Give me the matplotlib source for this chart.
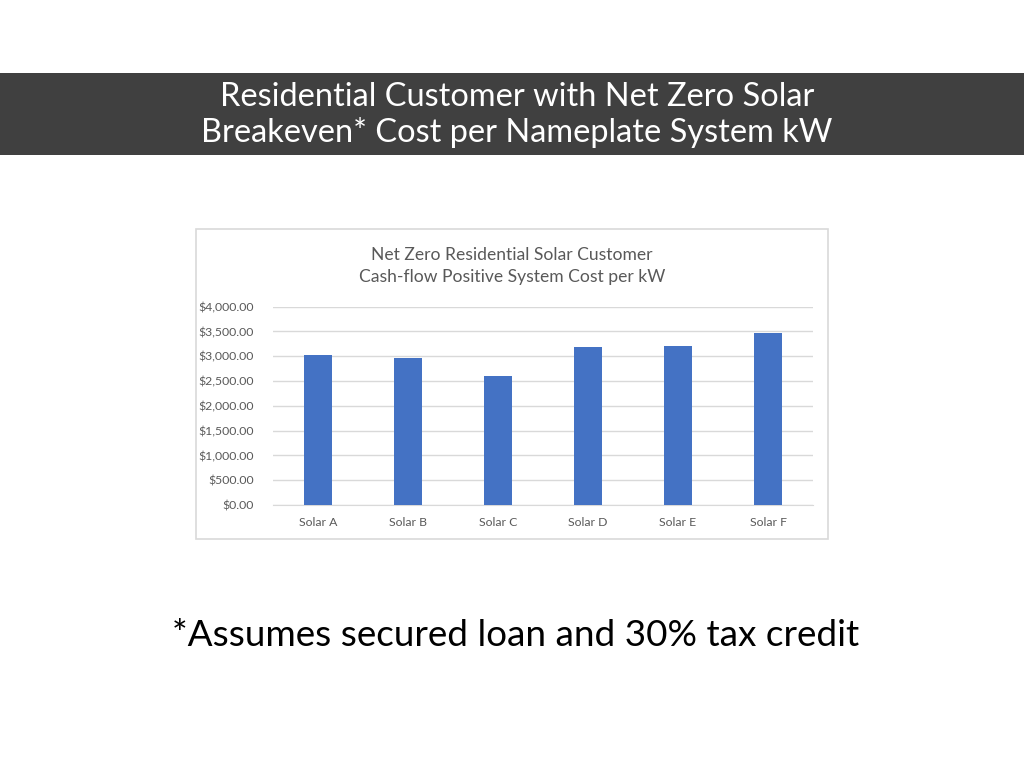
import matplotlib
matplotlib.use("Agg")
import matplotlib.pyplot as plt
from matplotlib.patches import Rectangle
from matplotlib.ticker import FuncFormatter, MultipleLocator

categories = ["Solar A", "Solar B", "Solar C", "Solar D", "Solar E", "Solar F"]
costs = [3025, 2970, 2605, 3180, 3205, 3470]

slide_title = "Residential Customer with Net Zero Solar\nBreakeven* Cost per Nameplate System kW"
chart_title = "Net Zero Residential Solar Customer\nCash-flow Positive System Cost per kW"
footnote = "*Assumes secured loan and 30% tax credit"

W, H = 1024, 768
fig = plt.figure(figsize=(W / 100, H / 100), dpi=100)
fig.patch.set_facecolor("white")
font = ["Lato", "DejaVu Sans"]

def fx(px):
    return px / W

def fy(py):
    return 1 - py / H

# Title banner
fig.patches.append(Rectangle((0, fy(155)), 1, (155 - 73) / H, transform=fig.transFigure,
                             facecolor="#404040", edgecolor="none", zorder=0))
fig.text(fx(517), fy(115), slide_title, ha="center", va="center", color="white",
         fontsize=23.4, family=font, linespacing=1.22)

# Chart box
fig.patches.append(Rectangle((fx(196), fy(539)), (828 - 196) / W, (539 - 229) / H,
                             transform=fig.transFigure, facecolor="white",
                             edgecolor="#d9d9d9", linewidth=1.2, zorder=0))
fig.text(fx(512), fy(266), chart_title, ha="center", va="center", color="#595959",
         fontsize=12.6, family=font, linespacing=1.45)

ax = fig.add_axes([fx(273), fy(505), (813 - 273) / W, (505 - 306.7) / H])
ax.set_zorder(2)
x = range(len(categories))
ax.bar(x, costs, width=0.31, color="#4472C4", zorder=3)
ax.set_xlim(-0.5, len(categories) - 0.5)
ax.set_ylim(0, 4000)
ax.yaxis.set_major_locator(MultipleLocator(500))
ax.yaxis.set_major_formatter(FuncFormatter(lambda v, p: f"${v:,.2f}"))
ax.set_xticks(list(x))
ax.set_xticklabels(categories)
ax.grid(axis="y", color="#d9d9d9", linewidth=1, zorder=0)
for s in ["top", "right", "left"]:
    ax.spines[s].set_visible(False)
ax.spines["bottom"].set_color("#d9d9d9")
ax.tick_params(axis="both", length=0, colors="#595959", labelsize=8.8)
ax.tick_params(axis="x", pad=9)
ax.tick_params(axis="y", pad=14)
for lbl in ax.get_xticklabels() + ax.get_yticklabels():
    lbl.set_family(font)
ax.set_facecolor("none")

fig.text(fx(516), fy(635), footnote, ha="center", va="center", color="black",
         fontsize=26.6, family=font)

fig.savefig("out.png", dpi=100)
